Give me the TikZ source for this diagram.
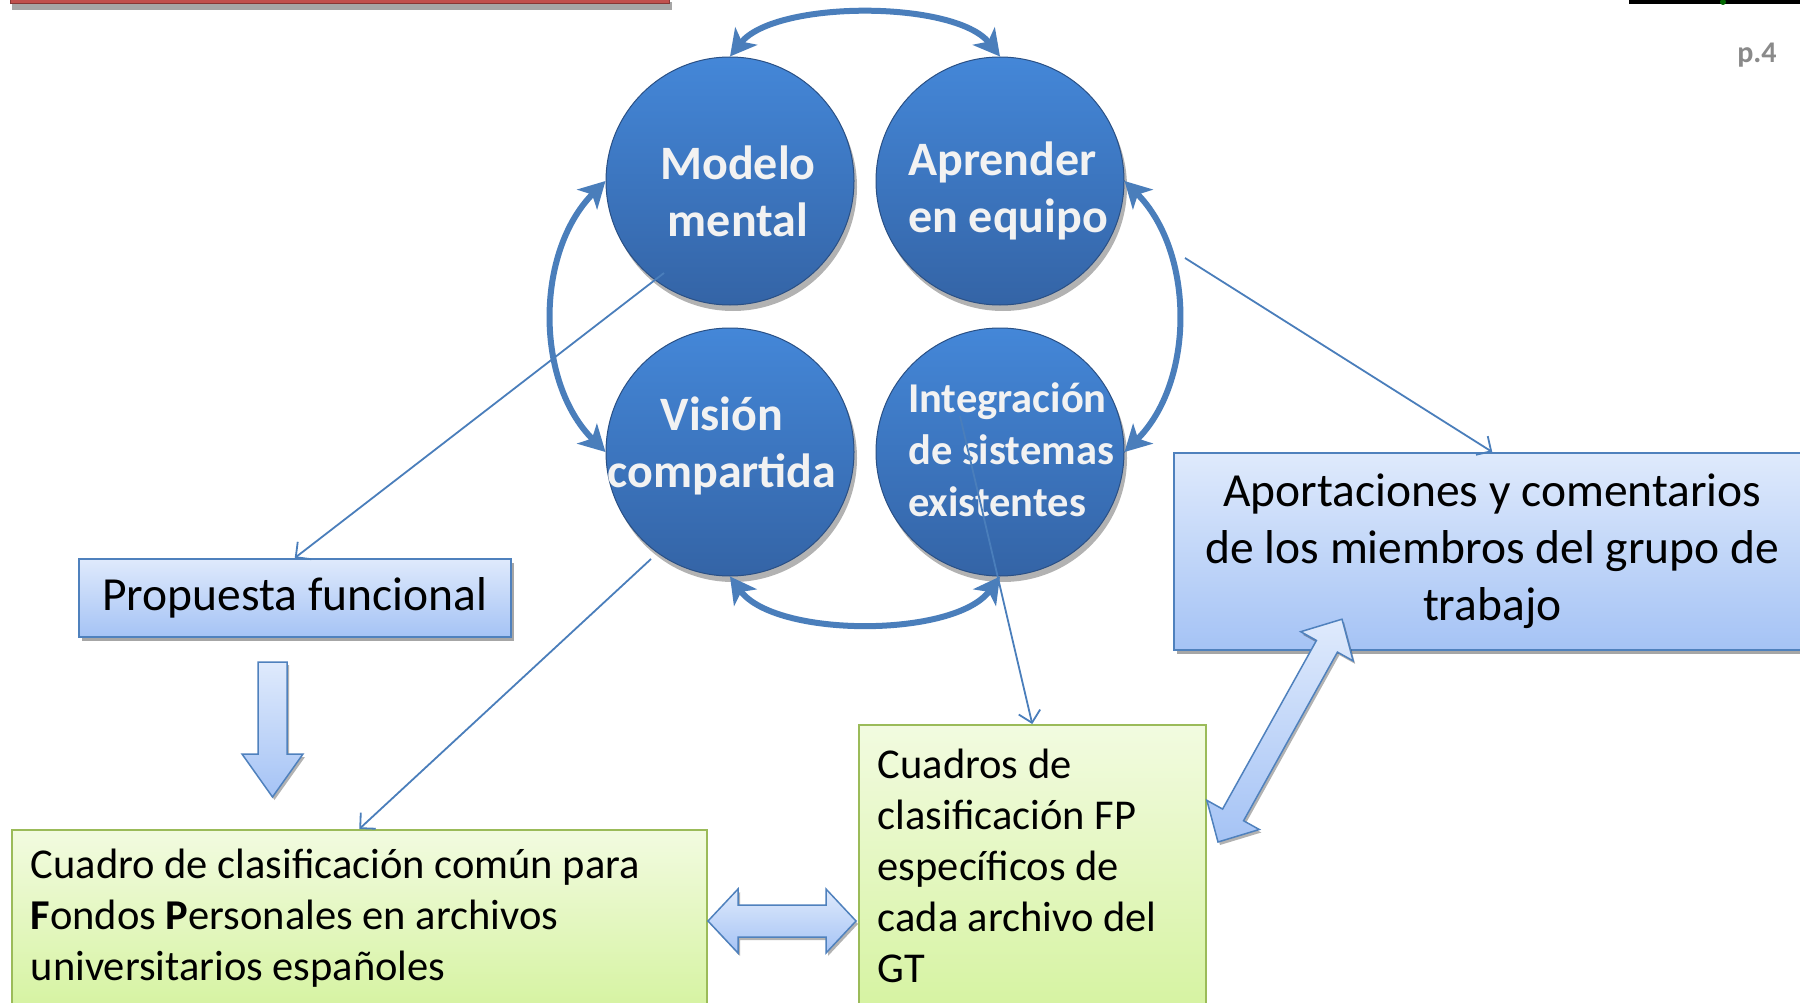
\documentclass[tikz,border=0pt]{standalone}
\usepackage{fontspec}
\setmainfont{Carlito}
\usetikzlibrary{arrows.meta,shadows}
\definecolor{arrblue}{HTML}{4A7EBB}
\definecolor{cirtop}{HTML}{4487D8}
\definecolor{cirbot}{HTML}{3464A6}
\definecolor{bluetop}{HTML}{DFEAFC}
\definecolor{bluebot}{HTML}{A5C3F5}
\definecolor{blueedge}{HTML}{4F81BD}
\definecolor{greentop}{HTML}{F2FBE0}
\definecolor{greenbot}{HTML}{D6F3A2}
\definecolor{greenedge}{HTML}{9BBB59}
\definecolor{redbar}{HTML}{C0504D}
\definecolor{pgray}{HTML}{8A8A8A}
\tikzset{
  circ/.style={circle, minimum size=248pt, inner sep=0pt, top color=cirtop, bottom color=cirbot,
    draw=cirbot!80!black, line width=1pt,
    drop shadow={shadow xshift=3pt, shadow yshift=-6pt, opacity=0.3, fill=black}},
  ctext/.style={text=white!95!black, font=\bfseries\fontsize{48}{57}\selectfont, inner sep=0pt},
  bluebox/.style={rectangle, top color=bluetop, bottom color=bluebot, draw=blueedge, line width=1.5pt,
    drop shadow={shadow xshift=3pt, shadow yshift=-4pt, opacity=0.35, fill=black}},
  greenbox/.style={rectangle, top color=greentop, bottom color=greenbot, draw=greenedge, line width=1.5pt,
    font=\fontsize{42.5}{51}\selectfont, align=left},
  cyc/.style={draw=arrblue, line width=6pt,
    {Stealth[length=26pt,width=28pt,inset=7pt]}-{Stealth[length=26pt,width=28pt,inset=7pt]}},
  lnk/.style={draw=arrblue, line width=1.8pt, -{Straight Barb[length=11pt,width=22pt]}},
  blockarr/.style={top color=bluetop, bottom color=bluebot, draw=blueedge, line width=1.5pt,
    drop shadow={shadow xshift=2pt, shadow yshift=-3pt, opacity=0.3, fill=black}}
}
\begin{document}
\begin{tikzpicture}[x=1pt,y=-1pt]
\useasboundingbox (0,0) rectangle (1800,1003);
\fill[white] (0,0) rectangle (1800,1003);

% top decorations
\fill[black!35] (12,2) rectangle (672,10);
\fill[redbar] (10,-5) rectangle (669,4);
\draw[redbar!70!black, line width=1pt] (10,-5) rectangle (669,4);
\fill[black] (1629,-2) rectangle (1800,4);
\fill[green!40!black] (1723,2) circle (3pt);
\node[font=\bfseries\fontsize{30}{34}\selectfont, text=pgray] (pg) at (1757,55) {p.4};

% circles
\node[circ] (m) at (730,181) {};
\node[circ] (a) at (1000,181) {};
\node[circ] (v) at (730,452) {};
\node[circ] (i) at (1000,452) {};
\node[ctext, align=center] (mt) at (738,191) {Modelo\\mental};
\node[ctext, align=left, anchor=west] (at) at (908,191) {Aprender\\en equipo};
\node[ctext, align=center] (vt) at (722,446) {Visión\\compartida};
\node[ctext, align=left, anchor=west, font=\bfseries\fontsize{42.5}{52}\selectfont] (it) at (908,450)
  {Integración\\de sistemas\\existentes};

% cycle arrows
\draw[cyc] (m.north) .. controls (775,0) and (955,0) .. (a.north);
\draw[cyc] (m.west) .. controls (535,252) and (535,382) .. (v.west);
\draw[cyc] (a.east) .. controls (1195,252) and (1195,382) .. (i.east);
\draw[cyc] (v.south) .. controls (775,638) and (955,638) .. (i.south);

% boxes
\node[bluebox, minimum width=432pt, minimum height=78pt, anchor=north west,
  font=\fontsize{47.5}{56}\selectfont] (p) at (78,558) {Propuesta funcional};
\node[bluebox, minimum width=637pt, minimum height=197pt, anchor=north west, align=center,
  font=\fontsize{47.5}{57}\selectfont] (r) at (1173,452)
  {Aportaciones y comentarios\\de los miembros del grupo de\\trabajo};
\node[greenbox, minimum width=695pt, minimum height=177pt, anchor=north west,
  text width=657pt, inner xsep=19pt] (c) at (11,829)
  {\spaceskip=0pt\xspaceskip=0pt\relax Cuadro de clasificación común para\\\textbf{F}ondos \textbf{P}ersonales en archivos\\universitarios españoles};
\node[greenbox, minimum width=347pt, minimum height=282pt, anchor=north west,
  text width=309pt, inner xsep=19pt] (f) at (858,724)
  {\spaceskip=0pt\xspaceskip=0pt\relax Cuadros de\\clasificación FP\\específicos de\\cada archivo del\\GT};

% block arrows
\path[blockarr] (258,662) -- (287,662) -- (287,754) -- (303,754) -- (272.5,797)
  -- (242,754) -- (258,754) -- cycle;
\path[blockarr] (708,921) -- (738,889) -- (738,905) -- (826,905) -- (826,889) -- (856,921)
  -- (826,953) -- (826,937) -- (738,937) -- (738,953) -- cycle;
\begin{scope}[shift={(1218,842)}, rotate=60.9]
\path[blockarr] (0,0) -- (31,-30) -- (31,-12) -- (224,-12) -- (224,-30) -- (255,0)
  -- (224,30) -- (224,12) -- (31,12) -- (31,30) -- cycle;
\end{scope}

% thin connectors
\coordinate (m1) at (664,273);
\coordinate (v1) at (651,559);
\coordinate (i1) at (960,416);
\coordinate (a1) at (1185,258);
\draw[lnk] (m1) -- (p.north);
\draw[lnk] (v1) -- (c.north);
\draw[lnk] (i1) -- (f.north);
\draw[lnk] (a1) -- (r.north);
\end{tikzpicture}
\end{document}
